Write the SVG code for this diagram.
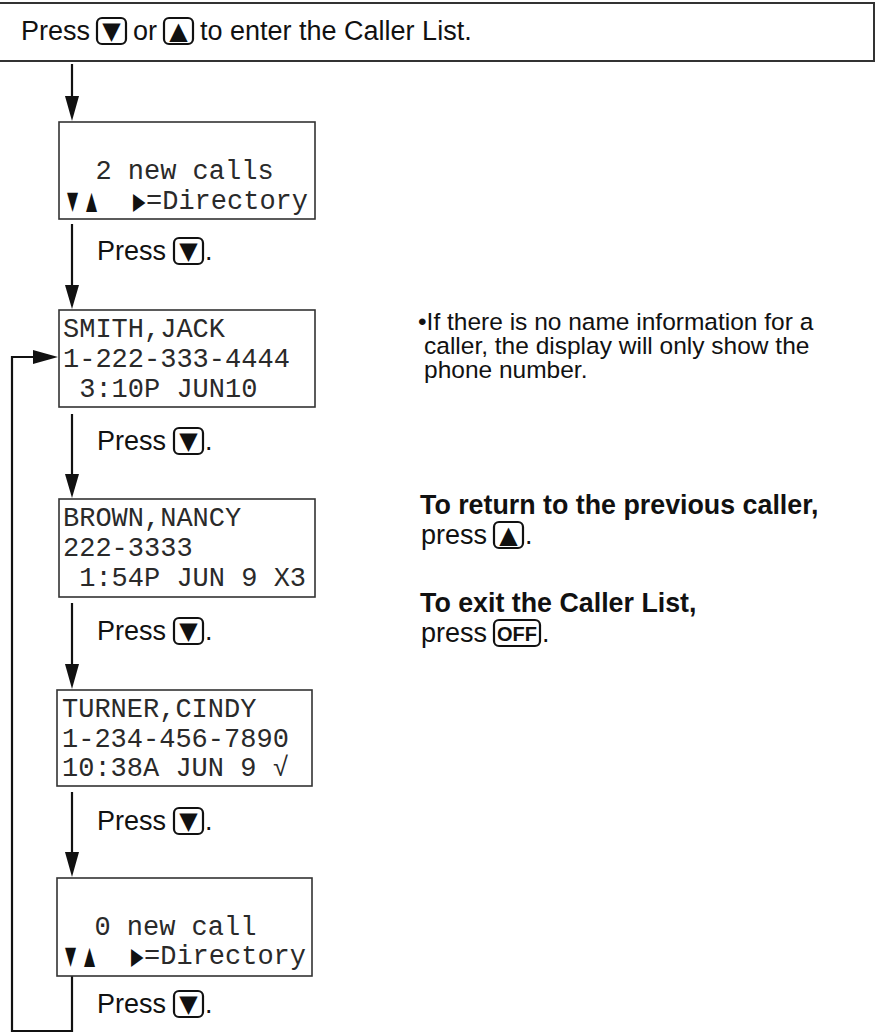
<svg xmlns="http://www.w3.org/2000/svg" width="875" height="1034" viewBox="0 0 875 1034">
<style>
.sans{font-family:"Liberation Sans",Arial,sans-serif;font-size:27px;fill:#111}
.note{font-family:"Liberation Sans",Arial,sans-serif;font-size:24.5px;fill:#111}
.bold{font-family:"Liberation Sans",Arial,sans-serif;font-size:26.8px;font-weight:bold;fill:#111}
.mono{font-family:"Liberation Mono","Courier New",monospace;font-size:27px;fill:#2a2a2a}
.ksym{font-family:"DejaVu Sans",sans-serif;fill:#111;font-size:24px}
.dsym{font-family:"DejaVu Sans",sans-serif;fill:#111;font-size:18px}
.box{fill:#fff;stroke:#333;stroke-width:1.6}
.key{fill:none;stroke:#111;stroke-width:2.2}
.line{fill:none;stroke:#111;stroke-width:2.2}
.head{fill:#111}
</style>
<rect width="875" height="1034" fill="#fff"/>
<g id="header">
<rect x="-3" y="3" width="877" height="58" fill="#fff" stroke="#333" stroke-width="2"/>
<text class="sans" x="21" y="40">Press</text>
<rect class="key" x="97" y="18" width="29" height="26" rx="5"/>
<text class="ksym" x="111.5" y="39" text-anchor="middle">▼</text>
<text class="sans" x="133" y="40">or</text>
<rect class="key" x="164" y="18" width="29" height="26" rx="5"/>
<text class="ksym" x="178.5" y="39" text-anchor="middle">▲</text>
<text class="sans" x="200" y="40">to enter the Caller List.</text>
</g>
<g id="connectors">
<line class="line" x1="72" y1="64" x2="72" y2="100"/>
<polygon class="head" points="65,96 79,96 72,121"/>
<line class="line" x1="72" y1="224" x2="72" y2="290"/>
<polygon class="head" points="65,285 79,285 72,309"/>
<line class="line" x1="72" y1="414" x2="72" y2="478"/>
<polygon class="head" points="65,474 79,474 72,498"/>
<line class="line" x1="72" y1="603" x2="72" y2="668"/>
<polygon class="head" points="65,664 79,664 72,689"/>
<line class="line" x1="72" y1="792" x2="72" y2="856"/>
<polygon class="head" points="65,852 79,852 72,877"/>
<path class="line" d="M72 976 V1031 H12 V357 H38"/>
<polygon class="head" points="33,350 33,364 58,357"/>
</g>
<g id="press1">
<text class="sans" x="97" y="260">Press</text>
<rect class="key" x="174" y="238" width="29" height="26" rx="5"/>
<text class="ksym" x="188.5" y="259" text-anchor="middle">▼</text>
<text class="sans" x="205" y="260">.</text>
</g>
<g id="press2">
<text class="sans" x="97" y="450">Press</text>
<rect class="key" x="174" y="428" width="29" height="26" rx="5"/>
<text class="ksym" x="188.5" y="449" text-anchor="middle">▼</text>
<text class="sans" x="205" y="450">.</text>
</g>
<g id="press3">
<text class="sans" x="97" y="640">Press</text>
<rect class="key" x="174" y="618" width="29" height="26" rx="5"/>
<text class="ksym" x="188.5" y="639" text-anchor="middle">▼</text>
<text class="sans" x="205" y="640">.</text>
</g>
<g id="press4">
<text class="sans" x="97" y="830">Press</text>
<rect class="key" x="174" y="808" width="29" height="26" rx="5"/>
<text class="ksym" x="188.5" y="829" text-anchor="middle">▼</text>
<text class="sans" x="205" y="830">.</text>
</g>
<g id="press5">
<text class="sans" x="97" y="1013">Press</text>
<rect class="key" x="174" y="991" width="29" height="26" rx="5"/>
<text class="ksym" x="188.5" y="1012" text-anchor="middle">▼</text>
<text class="sans" x="205" y="1013">.</text>
</g>
<g id="display1">
<rect class="box" x="59" y="122" width="256" height="97"/>
<text class="mono" x="63" y="179" xml:space="preserve">  2 new calls</text>
<text class="dsym" transform="translate(67,209) scale(0.8,1.4)">▼</text>
<text class="dsym" transform="translate(86,209) scale(0.8,1.4)">▲</text>
<text class="dsym" transform="translate(133,209) scale(0.9,1.3)">▶</text>
<text class="mono" x="146" y="209">=Directory</text>
</g>
<g id="display2">
<rect class="box" x="59" y="310" width="256" height="97"/>
<text class="mono" x="63" y="337">SMITH,JACK</text>
<text class="mono" x="63" y="367">1-222-333-4444</text>
<text class="mono" x="63" y="397" xml:space="preserve"> 3:10P JUN10</text>
</g>
<g id="display3">
<rect class="box" x="59" y="499" width="256" height="98"/>
<text class="mono" x="63" y="526">BROWN,NANCY</text>
<text class="mono" x="63" y="556">222-3333</text>
<text class="mono" x="63" y="586" xml:space="preserve"> 1:54P JUN 9 X3</text>
</g>
<g id="display4">
<rect class="box" x="57" y="690" width="255" height="96"/>
<text class="mono" x="62" y="717">TURNER,CINDY</text>
<text class="mono" x="62" y="747">1-234-456-7890</text>
<text class="mono" x="62" y="776">10:38A JUN 9 √</text>
</g>
<g id="display5">
<rect class="box" x="57" y="878" width="255" height="98"/>
<text class="mono" x="62" y="935" xml:space="preserve">  0 new call</text>
<text class="dsym" transform="translate(65,964) scale(0.8,1.4)">▼</text>
<text class="dsym" transform="translate(84,964) scale(0.8,1.4)">▲</text>
<text class="dsym" transform="translate(131,964) scale(0.9,1.3)">▶</text>
<text class="mono" x="144" y="964">=Directory</text>
</g>
<g id="note">
<text class="note" x="418" y="330">•If there is no name information for a</text>
<text class="note" x="424" y="354">caller, the display will only show the</text>
<text class="note" x="424" y="378">phone number.</text>
</g>
<g id="return-note">
<text class="bold" x="420" y="514">To return to the previous caller,</text>
<text class="sans" x="421" y="544">press</text>
<rect class="key" x="494" y="522" width="29" height="26" rx="5"/>
<text class="ksym" x="508.5" y="543" text-anchor="middle">▲</text>
<text class="sans" x="525" y="544">.</text>
</g>
<g id="exit-note">
<text class="bold" x="420" y="612">To exit the Caller List,</text>
<text class="sans" x="421" y="642">press</text>
<rect class="key" x="494" y="620" width="46" height="26" rx="5"/>
<text x="517" y="641" font-family="Liberation Sans,Arial,sans-serif" font-weight="bold" font-size="20" text-anchor="middle" fill="#111">OFF</text>
<text class="sans" x="542" y="642">.</text>
</g>
</svg>
